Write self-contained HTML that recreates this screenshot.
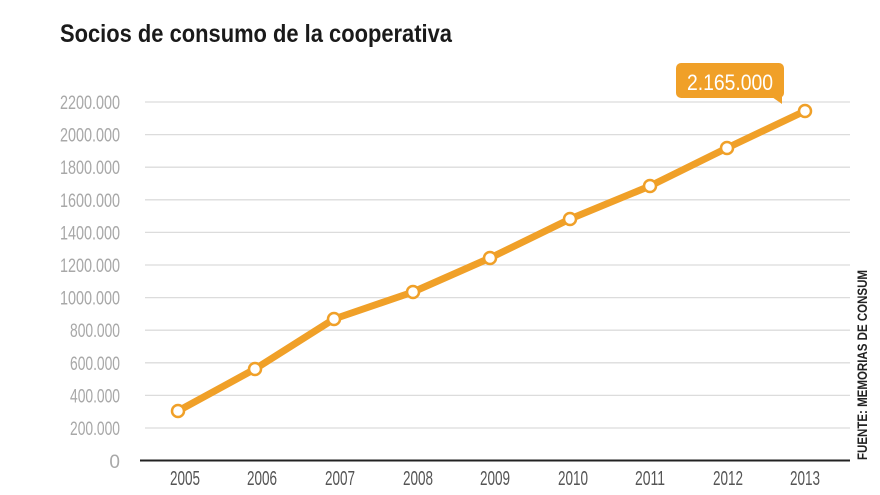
<!DOCTYPE html>
<html><head><meta charset="utf-8"><style>body{margin:0;background:#fff}svg{display:block}</style></head>
<body>
<svg width="880" height="495" viewBox="0 0 880 495" xmlns="http://www.w3.org/2000/svg" font-family="Liberation Sans, sans-serif">
<rect width="880" height="495" fill="#fff"/>
<text x="60" y="42" font-size="25" font-weight="bold" fill="#1a1a1a" textLength="392" lengthAdjust="spacingAndGlyphs">Socios de consumo de la cooperativa</text>
<g stroke="#dcdcdc" stroke-width="1.3">
<line x1="145" x2="850" y1="102" y2="102"/><line x1="145" x2="850" y1="134.6" y2="134.6"/>
<line x1="145" x2="850" y1="167.2" y2="167.2"/><line x1="145" x2="850" y1="199.8" y2="199.8"/>
<line x1="145" x2="850" y1="232.4" y2="232.4"/><line x1="145" x2="850" y1="265" y2="265"/>
<line x1="145" x2="850" y1="297.6" y2="297.6"/><line x1="145" x2="850" y1="330.2" y2="330.2"/>
<line x1="145" x2="850" y1="362.8" y2="362.8"/><line x1="145" x2="850" y1="395.4" y2="395.4"/>
<line x1="145" x2="850" y1="428" y2="428"/>
</g>
<line x1="140" x2="850" y1="460.5" y2="460.5" stroke="#222" stroke-width="2"/>
<g font-size="19" fill="#a8a8a8" text-anchor="end">
<text x="120" y="109" textLength="60" lengthAdjust="spacingAndGlyphs">2200.000</text>
<text x="120" y="141.6" textLength="60" lengthAdjust="spacingAndGlyphs">2000.000</text>
<text x="120" y="174.2" textLength="60" lengthAdjust="spacingAndGlyphs">1800.000</text>
<text x="120" y="206.8" textLength="60" lengthAdjust="spacingAndGlyphs">1600.000</text>
<text x="120" y="239.4" textLength="60" lengthAdjust="spacingAndGlyphs">1400.000</text>
<text x="120" y="272" textLength="60" lengthAdjust="spacingAndGlyphs">1200.000</text>
<text x="120" y="304.6" textLength="60" lengthAdjust="spacingAndGlyphs">1000.000</text>
<text x="120" y="337.2" textLength="50" lengthAdjust="spacingAndGlyphs">800.000</text>
<text x="120" y="369.8" textLength="50" lengthAdjust="spacingAndGlyphs">600.000</text>
<text x="120" y="402.4" textLength="50" lengthAdjust="spacingAndGlyphs">400.000</text>
<text x="120" y="435" textLength="50" lengthAdjust="spacingAndGlyphs">200.000</text>
<text x="120" y="468">0</text>
</g>
<g font-size="20" fill="#555" text-anchor="middle">
<text x="185" y="485" textLength="30" lengthAdjust="spacingAndGlyphs">2005</text>
<text x="262" y="485" textLength="30" lengthAdjust="spacingAndGlyphs">2006</text>
<text x="340" y="485" textLength="30" lengthAdjust="spacingAndGlyphs">2007</text>
<text x="418" y="485" textLength="30" lengthAdjust="spacingAndGlyphs">2008</text>
<text x="495" y="485" textLength="30" lengthAdjust="spacingAndGlyphs">2009</text>
<text x="573" y="485" textLength="30" lengthAdjust="spacingAndGlyphs">2010</text>
<text x="650" y="485" textLength="30" lengthAdjust="spacingAndGlyphs">2011</text>
<text x="728" y="485" textLength="30" lengthAdjust="spacingAndGlyphs">2012</text>
<text x="805" y="485" textLength="30" lengthAdjust="spacingAndGlyphs">2013</text>
</g>
<polyline points="178,411 255,369 334,319 413,292 490,258 570,219 650,186 727,148 805,111" fill="none" stroke="#f0a028" stroke-width="7" stroke-linejoin="round"/>
<g fill="#fff" stroke="#f0a028" stroke-width="2.5">
<circle cx="178" cy="411" r="6"/><circle cx="255" cy="369" r="6"/><circle cx="334" cy="319" r="6"/>
<circle cx="413" cy="292" r="6"/><circle cx="490" cy="258" r="6"/><circle cx="570" cy="219" r="6"/>
<circle cx="650" cy="186" r="6"/><circle cx="727" cy="148" r="6"/><circle cx="805" cy="111" r="6"/>
</g>
<rect x="676" y="63" width="108" height="35" rx="5" fill="#f0a028"/>
<polygon points="772,97 782,97 782,104" fill="#f0a028"/>
<text x="730" y="90" font-size="22" fill="#fff" text-anchor="middle" textLength="86" lengthAdjust="spacingAndGlyphs">2.165.000</text>
<text transform="translate(867,460) rotate(-90)" font-size="14" font-weight="bold" fill="#222" textLength="190" lengthAdjust="spacingAndGlyphs">FUENTE: MEMORIAS DE CONSUM</text>
</svg>
</body></html>
